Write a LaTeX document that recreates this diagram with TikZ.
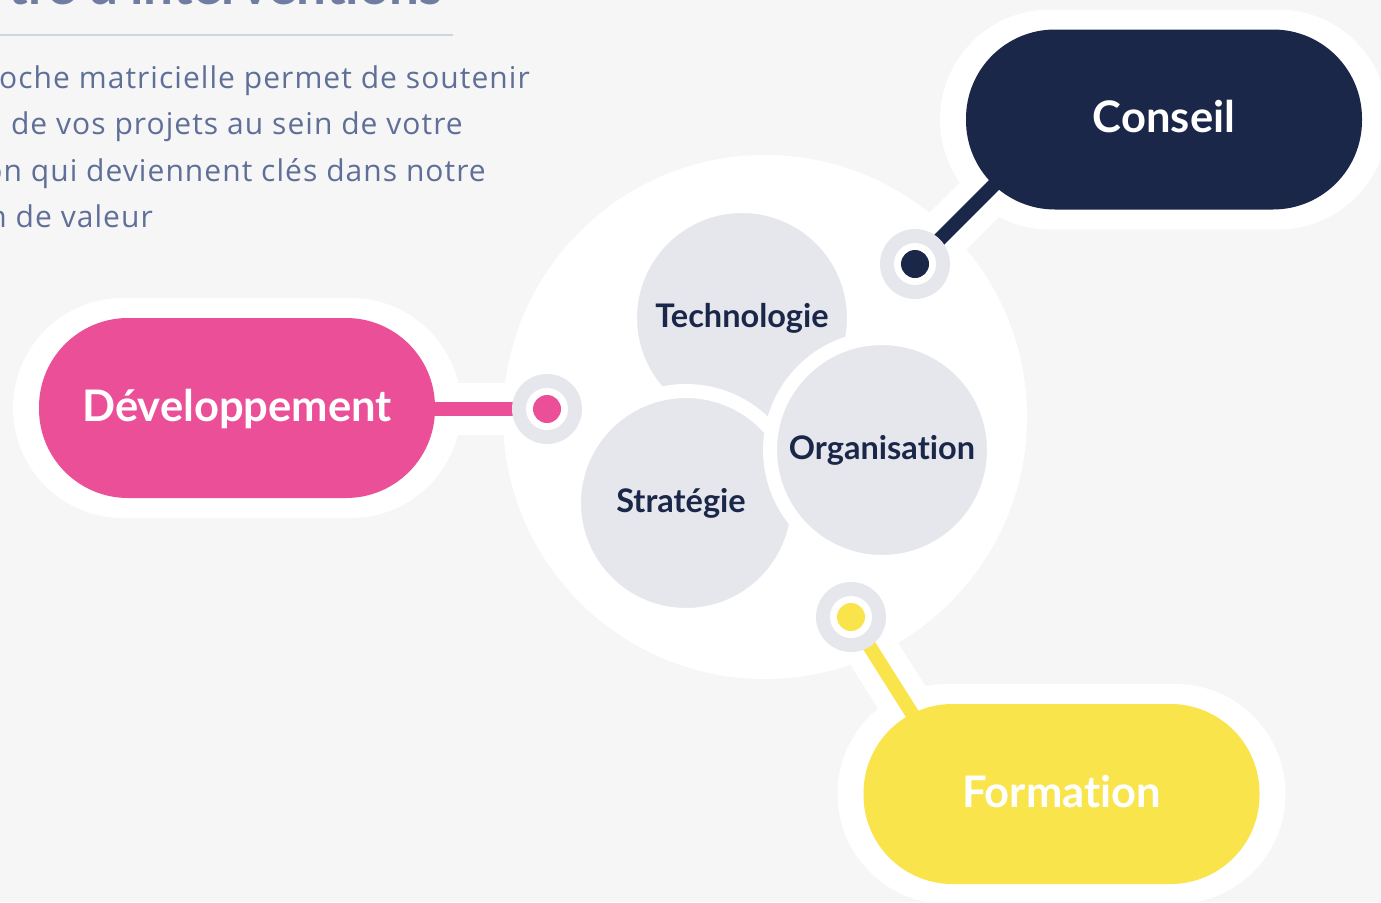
\documentclass[tikz,border=0pt]{standalone}
\usepackage{fontspec}
\setmainfont{Lato}[Ligatures={NoCommon}]
\newfontfamily\blurbfont{Open Sans}[LetterSpace=3.5]
\usetikzlibrary{positioning}
\definecolor{paper}{HTML}{F6F6F6}
\definecolor{navy}{HTML}{1B2749}
\definecolor{rose}{HTML}{EB4F98}
\definecolor{sun}{HTML}{F9E54B}
\definecolor{bubblegray}{HTML}{E6E7ED}
\definecolor{slate}{HTML}{5F6F98}
\definecolor{rulegray}{HTML}{CDD5E3}

\begin{document}
\begin{tikzpicture}[x=1pt,y=-1pt,
         pill/.style = {rectangle, rounded corners=89pt, minimum width=396pt,
            minimum height=180pt, text=white, text height=31pt, text depth=5pt,
            font=\fontsize{43.5}{43.5}\selectfont\bfseries},
         halo/.style = {rectangle, rounded corners=110pt, minimum width=448pt,
            minimum height=220pt, fill=white},
         bubble/.style = {circle, fill=bubblegray, draw=white, line width=14pt,
            minimum size=224pt, inner sep=0pt, text=navy, text height=23pt,
            text depth=5pt, font=\fontsize{32.5}{32.5}\selectfont\bfseries},
         band/.style = {white, line width=52pt},
         link/.style = {#1, line width=14pt},
         blurb/.style = {text=slate, anchor=base east, inner sep=0pt,
            font=\blurbfont\fontsize{30}{36}\selectfont}
]
   \useasboundingbox (0,0) rectangle (1381,902);
   \clip (0,0) rectangle (1381,902);
   \fill[paper] (0,0) rectangle (1381,902);

   % heading and text
   \node[anchor=base east, inner sep=0pt, text=slate!90,
      font=\fontsize{53}{53}\selectfont\bfseries] (title) at (443,5) {tre d'interventions};
   \draw[rulegray, line width=2pt] (0,35) -- (453,35);
   \node[blurb] (l1) at (530,88) {oche matricielle permet de soutenir};
   \node[blurb] (l2) at (463,134.5) {de vos projets au sein de votre};
   \node[blurb] (l3) at (486,181) {on qui deviennent clés dans notre};
   \node[blurb] (l4) at (153,227.5) {n de valeur};

   % white ground
   \node[circle, fill=white, minimum size=524pt] (hub) at (765,417) {};
   \node[halo] (haloC) at (1164,119.5) {};
   \node[halo] (haloD) at (237,408) {};
   \node[halo] (haloF) at (1061.5,794) {};

   \coordinate (dotC) at (915,264);
   \coordinate (dotD) at (547,409);
   \coordinate (dotF) at (851,617);
   \coordinate (tipC) at (1010,169);
   \coordinate (tipD) at (300,409);
   \coordinate (tipF) at (935,750);

   \draw[band] (dotC) -- (tipC);
   \draw[band] (dotD) -- (tipD);
   \draw[band] (dotF) -- (tipF);
   \draw[link=navy] (dotC) -- (tipC);
   \draw[link=rose] (dotD) -- (tipD);
   \draw[link=sun] (dotF) -- (tipF);

   % the three bubbles
   \node[bubble] (tech) at (742,318) {Technologie};
   \node[bubble] (strat) at (686,503) {\kern-10pt Stratégie};
   \node[bubble] (orga) at (882,450) {Organisation};

   % the three pills
   \node[pill, fill=navy] (conseil) at (haloC) {Conseil};
   \node[pill, fill=rose] (dev) at (haloD) {Développement};
   \node[pill, fill=sun] (formation) at (haloF) {Formation};

   \foreach \d/\c in {dotC/navy, dotD/rose, dotF/sun} {
      \fill[bubblegray] (\d) circle (35pt);
      \fill[white] (\d) circle (21pt);
      \fill[\c] (\d) circle (14pt);
   }
\end{tikzpicture}
\end{document}
